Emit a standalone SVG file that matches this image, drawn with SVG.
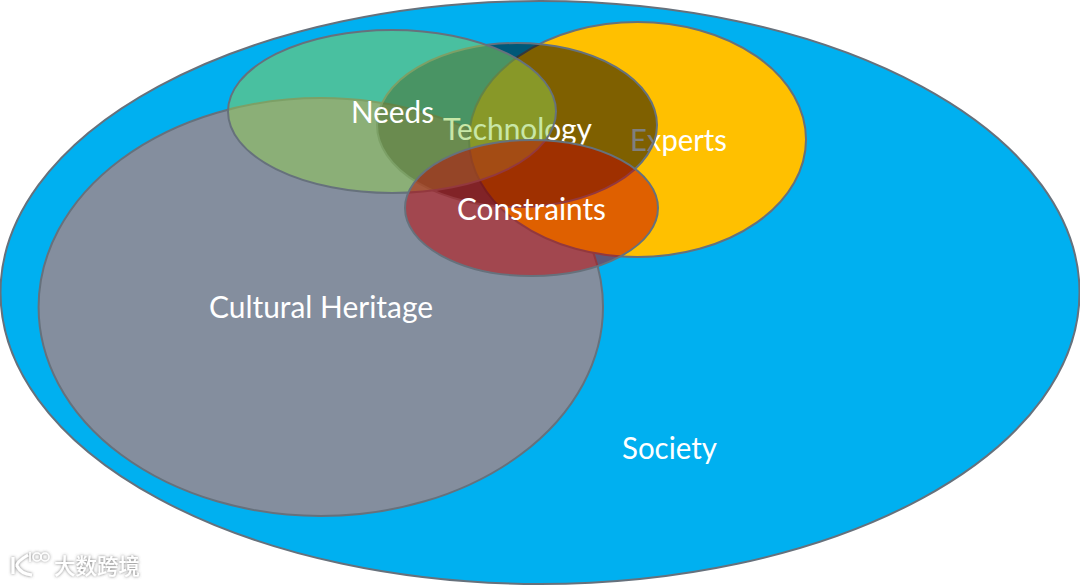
<svg xmlns="http://www.w3.org/2000/svg" width="1080" height="585" viewBox="0 0 1080 585">
<style>
.e{stroke:#66717c;stroke-width:2}
.t{font-family:"Lato","Carlito","Noto Sans",sans-serif;font-size:30px;fill:#fff;text-anchor:middle}
</style>
<defs>
<clipPath id="aboveConstraints"><path clip-rule="evenodd" d="M370 90H700V170H370ZM405 208a126.500 68 0 1 0 253 0a126.500 68 0 1 0 -253 0Z"/></clipPath>
<filter id="wm" x="-10%" y="-20%" width="120%" height="140%"><feDropShadow dx="0" dy="0" stdDeviation="1.500" flood-color="#666" flood-opacity=".9"/></filter>
</defs>
<rect width="1080" height="585" fill="#fff"/>
<g id="connectors"/>
<g id="society">
<ellipse class="e" cx="540" cy="292.500" rx="539.500" ry="291.500" fill="#00b0f0"/>
<text class="t" x="669.500" y="459" textLength="95" lengthAdjust="spacingAndGlyphs">Society</text>
</g>
<g id="cultural-heritage">
<ellipse class="e" cx="320.800" cy="307" rx="282.200" ry="209" fill="#848e9e"/>
<text class="t" x="321" y="318" textLength="224" lengthAdjust="spacingAndGlyphs">Cultural Heritage</text>
</g>
<g id="experts">
<ellipse class="e" cx="637.500" cy="139.500" rx="168.500" ry="117.500" fill="#ffc000"/>
<text class="t" x="678.500" y="151" textLength="97" lengthAdjust="spacingAndGlyphs">Experts</text>
</g>
<g id="technology">
<ellipse class="e" cx="517" cy="125" rx="140" ry="82" fill="#000" fill-opacity=".5"/>
<text class="t" x="517.500" y="140" textLength="149" lengthAdjust="spacingAndGlyphs" clip-path="url(#aboveConstraints)">Technology</text>
</g>
<g id="needs">
<ellipse class="e" cx="392" cy="111.500" rx="164" ry="81.500" fill="#92d050" fill-opacity=".5"/>
<text class="t" x="392.500" y="123" textLength="83" lengthAdjust="spacingAndGlyphs">Needs</text>
</g>
<g id="constraints">
<ellipse class="e" cx="531.500" cy="208" rx="126.500" ry="68" fill="#c00000" fill-opacity=".5"/>
<text class="t" x="531.500" y="219.500" textLength="149" lengthAdjust="spacingAndGlyphs">Constraints</text>
</g>
<g id="watermark" filter="url(#wm)">
<path d="M13 557V574M28 555Q16 562 17 566Q21 574 32 575" fill="none" stroke="#fff" stroke-width="3"/>
<path d="M30 552V562" fill="none" stroke="#fff" stroke-width="1.500"/>
<circle cx="37" cy="557" r="4" fill="none" stroke="#fff" stroke-width="1.500"/>
<circle cx="45" cy="557" r="4" fill="none" stroke="#fff" stroke-width="1.500"/>
<text x="54" y="574" font-family="'Noto Sans CJK SC',sans-serif" font-size="21.500" font-weight="500" fill="#fff">大数跨境</text>
</g>
</svg>
